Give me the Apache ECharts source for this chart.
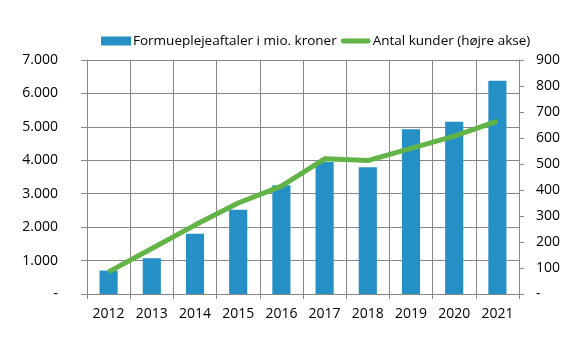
<!DOCTYPE html>
<html><head><meta charset="utf-8">
<script src="https://cdn.jsdelivr.net/npm/echarts@6/dist/echarts.min.js"></script>
<style>html,body{margin:0;padding:0;background:#fff}#c{width:581px;height:346px}</style>
</head><body><div id="c"></div>
<script>
const years = ['2012','2013','2014','2015','2016','2017','2018','2019','2020','2021'];
const formue = [700, 1070, 1800, 2520, 3250, 3950, 3790, 4930, 5150, 6380];
const kunder = [85, 175, 265, 350, 415, 520, 513, 560, 607, 665];
const barName = 'Formueplejeaftaler i mio. kroner';
const lineName = 'Antal kunder (højre akse)';

function fmt(v){ if(v===0) return '-'; return String(v).replace(/\B(?=(\d{3})+(?!\d))/g,'.'); }
const font = "'Open Sans', 'Liberation Sans', sans-serif";
const chart = echarts.init(document.getElementById('c'), null, {renderer:'canvas'});
chart.setOption({
  animation:false,
  textStyle:{fontFamily:font},
  legend:{
    top:29, left:96, itemGap:4, itemWidth:30, itemHeight:9,
    textStyle:{fontSize:13.5, color:'#000', fontFamily:font, padding:[0,0,0,-3]},
    data:[
      {name:barName, icon:'rect'},
      {name:lineName, icon:'path://M2,0 L28,0 A2.5,2.5 0 0 1 28,5 L2,5 A2.5,2.5 0 0 1 2,0 Z', itemStyle:{color:'#62b446'}}
    ]
  },
  grid:{left:87, right:62, top:60, bottom:52, containLabel:false},
  xAxis:{
    type:'category', data:years,
    axisLine:{show:true, lineStyle:{color:'#888888', width:1}},
    axisTick:{show:true, length:5, alignWithLabel:false, lineStyle:{color:'#888888'}},
    splitLine:{show:true, interval:0, lineStyle:{color:'#888888', width:1}},
    axisLabel:{color:'#000', fontSize:14, margin:13, fontFamily:font}
  },
  yAxis:[{
    type:'value', min:0, max:7000, interval:1000, position:'left',
    axisLine:{show:true, lineStyle:{color:'#888888'}},
    axisTick:{show:true, length:6, lineStyle:{color:'#888888'}},
    splitLine:{show:true, lineStyle:{color:'#888888', width:1}},
    axisLabel:{color:'#000', fontSize:14, margin:29, formatter:fmt, fontFamily:font}
  },{
    type:'value', min:0, max:900, interval:100, position:'right',
    axisLine:{show:true, lineStyle:{color:'#888888'}},
    axisTick:{show:true, length:5, lineStyle:{color:'#888888'}},
    splitLine:{show:false},
    axisLabel:{color:'#000', fontSize:14, margin:17, formatter:fmt, fontFamily:font}
  }],
  series:[{
    name:barName, type:'bar', data:formue, yAxisIndex:0,
    barWidth:'42%', itemStyle:{color:'#2590c5'}
  },{
    name:lineName, type:'line', data:kunder, yAxisIndex:1,
    symbol:'none', lineStyle:{color:'#62b446', width:5},
    itemStyle:{color:'#62b446'}
  }]
});
</script></body></html>
